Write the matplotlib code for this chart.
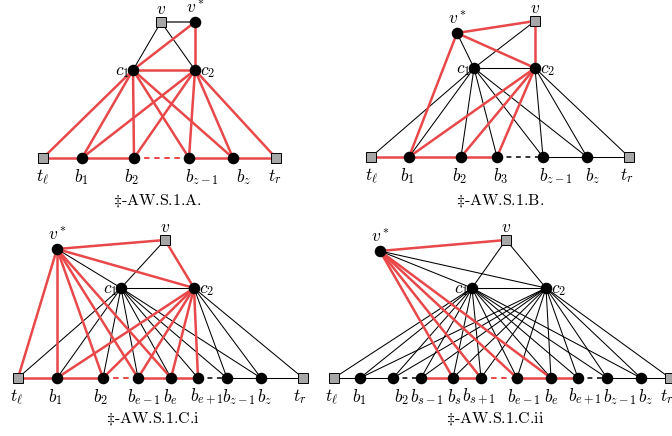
import matplotlib
matplotlib.use('Agg')
import matplotlib.pyplot as plt

plt.rcParams['mathtext.fontset'] = 'cm'

# ---------------- DATA ----------------
captions = [r'$\ddagger$-AW.S.1.A.', r'$\ddagger$-AW.S.1.B.',
            r'$\ddagger$-AW.S.1.C.i', r'$\ddagger$-AW.S.1.C.ii']

node_labels = {
    'v': r'$v$', 'vs': r'$v^*$', 'c1': r'$c_1$', 'c2': r'$c_2$',
    'tl': r'$t_\ell$', 'tr': r'$t_r$', 'b1': r'$b_1$', 'b2': r'$b_2$', 'b3': r'$b_3$',
    'bz1': r'$b_{z-1}$', 'bz': r'$b_z$', 'be1': r'$b_{e-1}$', 'be': r'$b_e$',
    'bep': r'$b_{e+1}$', 'bs1': r'$b_{s-1}$', 'bs': r'$b_s$', 'bsp': r'$b_{s+1}$',
}
square_nodes = ['v', 'tl', 'tr']

p1_edges = ([('v', 'vs', 'g'), ('v', 'c1', 'k'), ('v', 'c2', 'k'),
             ('vs', 'c1', 'r'), ('vs', 'c2', 'r'), ('c1', 'c2', 'r')]
            + [('c1', b, 'r') for b in ['tl', 'b1', 'b2', 'bz1', 'bz']]
            + [('c2', b, 'r') for b in ['b1', 'b2', 'bz1', 'bz', 'tr']]
            + [('tl', 'b1', 'r'), ('b1', 'b2', 'r'), ('b2', 'bz1', 'rd'),
               ('bz1', 'bz', 'r'), ('bz', 'tr', 'r')])

p2_edges = ([('vs', 'v', 'r'), ('v', 'c2', 'r'), ('vs', 'c2', 'r'),
             ('vs', 'c1', 'k'), ('v', 'c1', 'k'), ('c1', 'c2', 'k'), ('vs', 'b1', 'r')]
            + [('c1', b, 'k') for b in ['tl', 'b1', 'b2', 'b3', 'bz1', 'bz']]
            + [('c2', b, 'r') for b in ['b1', 'b2', 'b3']]
            + [('c2', b, 'k') for b in ['bz1', 'bz', 'tr']]
            + [('tl', 'b1', 'r'), ('b1', 'b2', 'r'), ('b2', 'b3', 'r'),
               ('b3', 'bz1', 'kd'), ('bz1', 'bz', 'k'), ('bz', 'tr', 'k')])

p3_edges = ([('vs', 'v', 'r'), ('v', 'c2', 'r'), ('vs', 'c2', 'r'),
             ('vs', 'c1', 'k'), ('v', 'c1', 'k'), ('c1', 'c2', 'k')]
            + [('vs', b, 'r') for b in ['tl', 'b1', 'b2', 'be1', 'be']]
            + [('c1', b, 'k') for b in ['tl', 'b1', 'b2', 'be1', 'be', 'bep', 'bz1', 'bz']]
            + [('c2', b, 'r') for b in ['b1', 'b2', 'be1', 'be', 'bep']]
            + [('c2', b, 'k') for b in ['bz1', 'bz', 'tr']]
            + [('tl', 'b1', 'r'), ('b1', 'b2', 'r'), ('b2', 'be1', 'rd'),
               ('be1', 'be', 'r'), ('be', 'bep', 'r'), ('bep', 'bz1', 'kd'),
               ('bz1', 'bz', 'k'), ('bz', 'tr', 'k')])

p4_edges = ([('vs', 'v', 'r'), ('vs', 'c1', 'k'), ('vs', 'c2', 'k'),
             ('v', 'c1', 'k'), ('v', 'c2', 'k'), ('c1', 'c2', 'k')]
            + [('vs', b, 'r') for b in ['bs', 'bsp', 'be1', 'be']]
            + [('c1', b, 'k') for b in ['tl', 'b1', 'b2', 'bs1', 'bs', 'bsp', 'be1',
                                        'be', 'bep', 'bz1', 'bz']]
            + [('c2', b, 'k') for b in ['b1', 'b2', 'bs1', 'bs', 'bsp', 'be1',
                                        'be', 'bep', 'bz1', 'bz', 'tr']]
            + [('tl', 'b1', 'k'), ('b1', 'b2', 'k'), ('b2', 'bs1', 'kd'),
               ('bs1', 'bs', 'r'), ('bs', 'bsp', 'r'), ('bsp', 'be1', 'rd'),
               ('be1', 'be', 'r'), ('be', 'bep', 'r'), ('bep', 'bz1', 'kd'),
               ('bz1', 'bz', 'k'), ('bz', 'tr', 'k')])

# ---------------- LAYOUT (pixel canvas) ----------------
p1_pos = {'v': (161, 22), 'vs': (195, 22), 'c1': (133, 70), 'c2': (195, 70),
          'tl': (43, 158), 'b1': (82, 158), 'b2': (134, 158), 'bz1': (189, 158),
          'bz': (233, 158), 'tr': (276, 158)}
p2_pos = {'v': (535, 21), 'vs': (457, 33), 'c1': (474, 68), 'c2': (535, 68),
          'tl': (371, 157), 'b1': (409, 157), 'b2': (461, 157), 'b3': (497, 157),
          'bz1': (543, 157), 'bz': (587, 157), 'tr': (629, 157)}
p3_pos = {'v': (165, 240), 'vs': (57, 249), 'c1': (121, 288), 'c2': (194, 288),
          'tl': (18, 378), 'b1': (57, 378), 'b2': (103, 378), 'be1': (138, 378),
          'be': (171, 378), 'bep': (198, 378), 'bz1': (227, 378), 'bz': (261, 378),
          'tr': (303, 378)}
p4_pos = {'v': (506, 240), 'vs': (380, 251), 'c1': (472, 288), 'c2': (546, 288),
          'tl': (334, 378), 'b1': (360, 378), 'b2': (393, 378), 'bs1': (421, 378),
          'bs': (453, 378), 'bsp': (481, 378), 'be1': (517, 378), 'be': (551, 378),
          'bep': (578, 378), 'bz1': (607, 378), 'bz': (641, 378), 'tr': (670, 378)}
# left edge (x) of each bottom label, as placed in the reference
p1_lab = {'tl': 36, 'b1': 74, 'b2': 124, 'bz1': 185, 'bz': 236, 'tr': 268}
p2_lab = {'tl': 365, 'b1': 400, 'b2': 452, 'b3': 493, 'bz1': 539, 'bz': 585, 'tr': 620}
p3_lab = {'tl': 10, 'b1': 48, 'b2': 93, 'be1': 127, 'be': 163, 'bep': 190,
          'bz1': 222, 'bz': 257, 'tr': 293}
p4_lab = {'tl': 325, 'b1': 352, 'b2': 394, 'bs1': 410, 'bs': 447, 'bsp': 462,
          'be1': 507, 'be': 544, 'bep': 568, 'bz1': 603, 'bz': 638, 'tr': 660}
caption_pos = [(157, 200), (500, 200), (153, 418), (495, 418)]

RED = '#e8484a'
styles = {
    'r': dict(color=RED, lw=1.8, zorder=2),
    'rd': dict(color=RED, lw=1.4, zorder=2, dashes=(2.8, 2.4)),
    'k': dict(color='black', lw=0.75, zorder=1),
    'kd': dict(color='black', lw=1.1, zorder=1, dashes=(3.2, 3.0)),
    'g': dict(color='#555555', lw=1.3, zorder=1),
}

fig = plt.figure(figsize=(6.72, 4.36), dpi=100)
ax = fig.add_axes([0, 0, 1, 1])
ax.set_xlim(0, 672)
ax.set_ylim(436, 0)
ax.axis('off')

panels = [(p1_pos, p1_edges, p1_lab), (p2_pos, p2_edges, p2_lab),
          (p3_pos, p3_edges, p3_lab), (p4_pos, p4_edges, p4_lab)]
FS = 12.5

for (pos, edges, labx), cap, cpos in zip(panels, captions, caption_pos):
    for u, w, kind in edges:
        (x0, y0), (x1, y1) = pos[u], pos[w]
        ax.plot([x0, x1], [y0, y1], solid_capstyle='butt', dash_capstyle='butt', **styles[kind])
    for name, (x, y) in pos.items():
        if name in square_nodes:
            ax.plot([x], [y], marker='s', ms=6.5, mfc='#a6a6a6', mec='black', mew=0.7,
                    zorder=4, ls='none')
        else:
            ax.plot([x], [y], marker='o', ms=7.3, mfc='black', mec='black', zorder=4,
                    ls='none')
        lab = node_labels[name]
        if name in ('v', 'vs'):
            ax.text(x, y - 4, lab, ha='center', va='bottom', fontsize=FS, zorder=5)
        elif name == 'c1':
            ax.text(x - 3, y + 1, lab, ha='right', va='center', fontsize=FS, zorder=5)
        elif name == 'c2':
            ax.text(x + 5, y + 1, lab, ha='left', va='center', fontsize=FS, zorder=5)
        else:
            ax.text(labx[name], y + 9, lab, ha='left', va='top', fontsize=FS, zorder=5)
    ax.text(cpos[0], cpos[1], cap, ha='center', va='center', fontsize=11.5,
            family=['cmr10', 'DejaVu Serif'])

fig.savefig('out.png', dpi=100)
